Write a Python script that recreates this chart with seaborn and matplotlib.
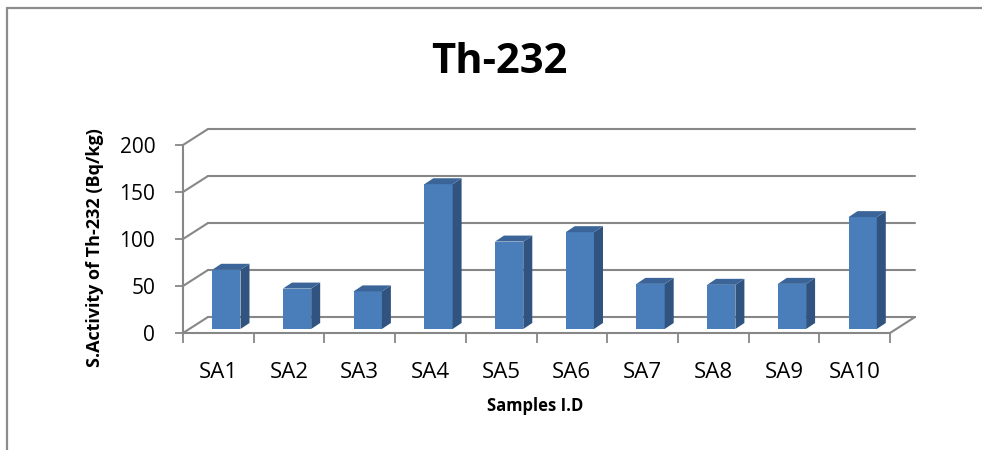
import matplotlib
matplotlib.use("Agg")
import matplotlib.pyplot as plt
import seaborn as sns
import pandas as pd
from matplotlib.patches import Polygon
from matplotlib.lines import Line2D
from matplotlib.ticker import FixedLocator

# ---- data ----
samples = ["SA1", "SA2", "SA3", "SA4", "SA5", "SA6", "SA7", "SA8", "SA9", "SA10"]
activity = [63, 43, 40, 154, 93, 103, 48, 47, 48, 119]
y_ticks = [0, 50, 100, 150, 200]
title = "Th-232"
x_label = "Samples I.D"
y_label = "S.Activity of Th-232 (Bq/kg)"

# ---- style ----
FRONT = "#4a7ebb"
SIDE = "#30547f"
TOP = "#3b6598"
GRID = "#878787"

sns.set_style("white")
plt.rcParams["font.family"] = ["Open Sans", "DejaVu Sans"]
plt.rcParams["text.color"] = "black"
plt.rcParams["xtick.color"] = "black"
plt.rcParams["ytick.color"] = "black"

W, H = 982, 450
fig = plt.figure(figsize=(W / 100, H / 100), dpi=100)

# front frame of the 3-D plot, in pixels
x0, x1, yb, yt = 183, 890, 333, 145
ax = fig.add_axes([x0 / W, 1 - yb / H, (x1 - x0) / W, (yb - yt) / H])

df = pd.DataFrame({"Sample": samples, "Activity": activity})
sns.barplot(data=df, x="Sample", y="Activity", color=FRONT, saturation=1,
            width=0.4, ax=ax, zorder=3, edgecolor="none", linewidth=0)

n = len(samples)
ymax = y_ticks[-1]
ax.set_xlim(-0.5, n - 0.5)
ax.set_ylim(0, ymax)

# pixel -> data conversion factors
sx = n / (x1 - x0)
sy = ymax / (yb - yt)

# depth offsets (pixels)
back_dx, back_dy = 25, 16      # back wall
bar_dx, bar_dy = 8, 4          # bar front face position in depth
dep_dx, dep_dy = 9, 6          # bar depth

# back wall gridlines + diagonals on left side wall
for v in y_ticks:
    bx = -0.5 + back_dx * sx
    by = v + back_dy * sy
    ax.add_line(Line2D([-0.5, bx], [v, by], color=GRID, lw=1.5, zorder=1, clip_on=False))
    ax.add_line(Line2D([bx, n - 0.5 + back_dx * sx], [by, by], color=GRID, lw=1.5,
                       zorder=1, clip_on=False))
# right floor edge
ax.add_line(Line2D([n - 0.5, n - 0.5 + back_dx * sx], [0, back_dy * sy], color=GRID,
                   lw=1.5, zorder=1, clip_on=False))

# 3-D bars: shift the front faces into depth and add side/top faces
for p in list(ax.patches):
    x = p.get_x() + bar_dx * sx
    y = bar_dy * sy
    w = p.get_width()
    h = p.get_height()
    p.set_x(x)
    p.set_y(y)
    ddx, ddy = dep_dx * sx, dep_dy * sy
    side = Polygon([(x + w, y), (x + w + ddx, y + ddy), (x + w + ddx, y + h + ddy), (x + w, y + h)],
                   closed=True, facecolor=SIDE, edgecolor="none", zorder=3, clip_on=False)
    top = Polygon([(x, y + h), (x + w, y + h), (x + w + ddx, y + h + ddy), (x + ddx, y + h + ddy)],
                  closed=True, facecolor=TOP, edgecolor="none", zorder=3, clip_on=False)
    ax.add_patch(side)
    ax.add_patch(top)
    p.set_clip_on(False)

# axes styling
for s in ["top", "right"]:
    ax.spines[s].set_visible(False)
for s in ["left", "bottom"]:
    ax.spines[s].set_color(GRID)
    ax.spines[s].set_linewidth(1.5)
ax.set_yticks(y_ticks)
ax.set_yticklabels([str(v) for v in y_ticks])
ax.tick_params(axis="y", direction="out", length=6, width=1.3, color=GRID,
               labelsize=15, labelcolor="black", pad=14, left=True)
ax.tick_params(axis="x", which="major", length=0, labelsize=16, labelcolor="black", pad=21)
ax.xaxis.set_minor_locator(FixedLocator([i - 0.5 for i in range(n + 1)]))
ax.tick_params(axis="x", which="minor", direction="out", length=7, width=1.3,
               color=GRID, bottom=True)
ax.set_xlabel("")
ax.set_ylabel("")
ax.set_facecolor("none")

# texts
fig.text(499.5 / W, 1 - 73 / H, title, ha="center", va="baseline",
         fontsize=30, fontweight="bold", color="black")
fig.text(535 / W, 1 - 411 / H, x_label, ha="center", va="baseline",
         fontsize=12, fontweight="bold", color="black")
fig.text(95 / W, 1 - 248 / H, y_label, ha="center", va="center", rotation=90,
         fontsize=13, fontweight="bold", color="black")

# chart area border (left and top visible)
bx = 6.5 / W
byy = 1 - 7.5 / H
fig.add_artist(Line2D([bx, bx], [0, byy], transform=fig.transFigure, color="#8c8c8c", lw=1.6))
fig.add_artist(Line2D([bx, 1], [byy, byy], transform=fig.transFigure, color="#8c8c8c", lw=1.6))

fig.savefig("out.png", dpi=100)
